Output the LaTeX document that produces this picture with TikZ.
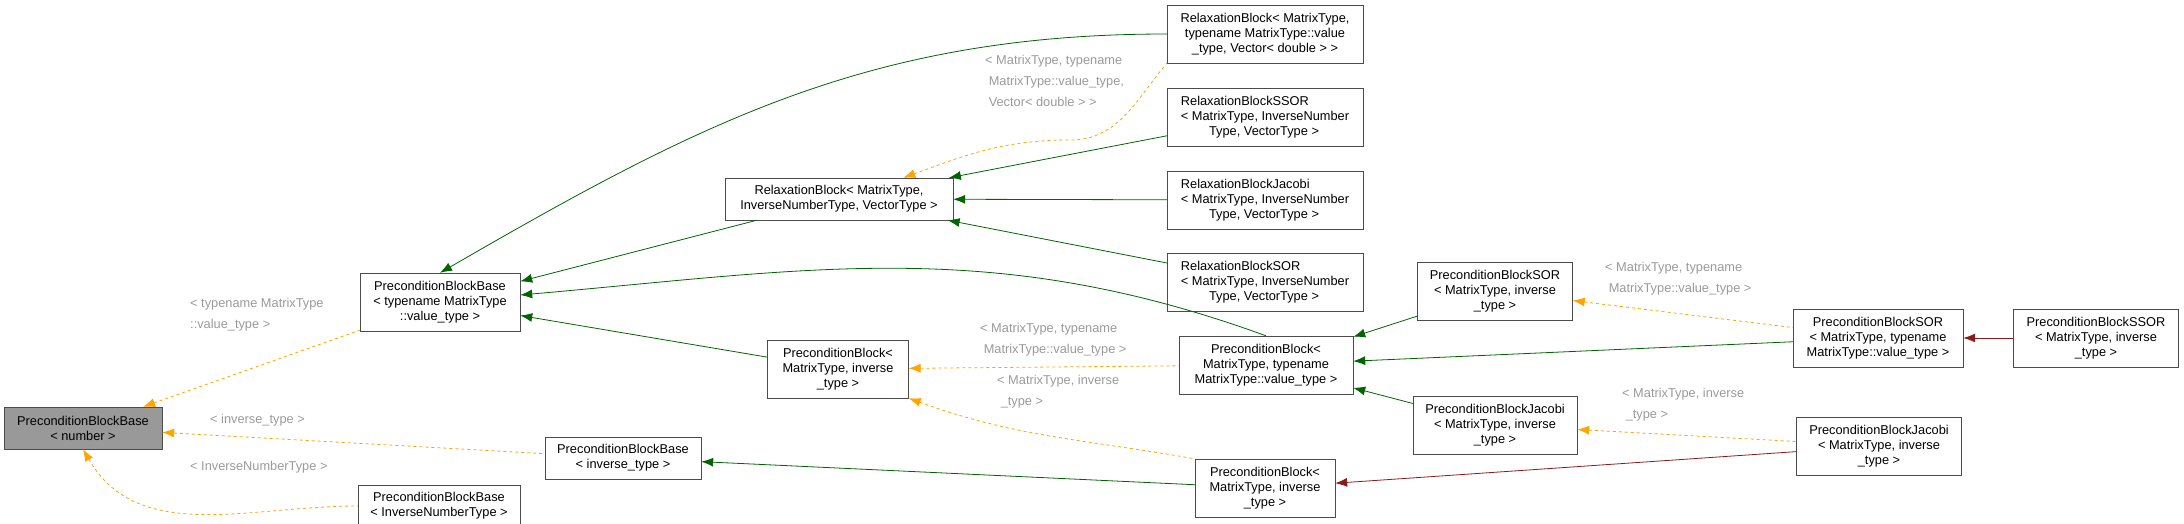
\documentclass[tikz,border=0pt]{standalone}
\usepackage{fontspec}
\setmainfont{Liberation Sans}
\usetikzlibrary{arrows.meta}
\definecolor{dgreen}{HTML}{006400}
\definecolor{dred}{HTML}{8B1A1A}
\definecolor{orng}{HTML}{FFA500}
\definecolor{lblgray}{HTML}{9A9A9A}
\tikzset{
  cls/.style={draw=black!70, font=\fontsize{12.8}{15}\selectfont, align=center, inner sep=0pt},
  clsl/.style={cls, align=left},
  pub/.style={draw=dgreen, thick, {Latex[length=12pt,width=9pt]}-},
  priv/.style={draw=dred, thick, {Latex[length=12pt,width=9pt]}-},
  tmpl/.style={draw=orng, thick, dashed, {Latex[length=12pt,width=9pt]}-},
  lbl/.style={text=lblgray, font=\fontsize{12.8}{21}\selectfont, align=left, anchor=north west, inner sep=0pt}
}
\begin{document}
\begin{tikzpicture}[x=1pt,y=-1pt]
  \useasboundingbox (0,0) rectangle (2184,523);
  % classes
  \node[cls, fill=black!40, minimum width=158pt, minimum height=42pt] (pbbNum) at (83,428) {PreconditionBlockBase\\< number >};
  \node[cls, minimum width=160pt, minimum height=58pt] (pbbVal) at (440,302) {PreconditionBlockBase\\< typename MatrixType\\ ::value\_type >};
  \node[cls, minimum width=156pt, minimum height=42pt] (pbbInv) at (623,458) {PreconditionBlockBase\\< inverse\_type >};
  \node[cls, minimum width=162pt, minimum height=42pt] (pbbNT) at (439,506) {PreconditionBlockBase\\< InverseNumberType >};
  \node[cls, minimum width=228pt, minimum height=42pt] (rb) at (839,199) {RelaxationBlock< MatrixType,\\InverseNumberType, VectorType >};
  \node[cls, minimum width=141pt, minimum height=58pt] (pbInvL) at (838,369) {PreconditionBlock<\\MatrixType, inverse\\\_type >};
  \node[cls, minimum width=196pt, minimum height=58pt] (rbVec) at (1265,34) {RelaxationBlock< MatrixType,\\typename MatrixType::value\\\_type, Vector< double > >};
  \node[clsl, minimum width=196pt, minimum height=58pt] (rbSSOR) at (1265,117) {RelaxationBlockSSOR\\< MatrixType, InverseNumber\\\hspace*{2.2em}Type, VectorType >};
  \node[clsl, minimum width=196pt, minimum height=58pt] (rbJac) at (1265,200) {RelaxationBlockJacobi\\< MatrixType, InverseNumber\\\hspace*{2.2em}Type, VectorType >};
  \node[clsl, minimum width=196pt, minimum height=58pt] (rbSOR) at (1265,282) {RelaxationBlockSOR\\< MatrixType, InverseNumber\\\hspace*{2.2em}Type, VectorType >};
  \node[cls, minimum width=174pt, minimum height=58pt] (pbVal) at (1266,365) {PreconditionBlock<\\MatrixType, typename\\MatrixType::value\_type >};
  \node[cls, minimum width=140pt, minimum height=58pt] (pbInvB) at (1265,488) {PreconditionBlock<\\MatrixType, inverse\\\_type >};
  \node[cls, minimum width=155pt, minimum height=58pt] (pbSORInv) at (1495,291) {PreconditionBlockSOR\\< MatrixType, inverse\\\_type >};
  \node[cls, minimum width=164pt, minimum height=58pt] (pbJacInv) at (1495,425) {PreconditionBlockJacobi\\< MatrixType, inverse\\\_type >};
  \node[cls, minimum width=170pt, minimum height=58pt] (pbSORVal) at (1878,338) {PreconditionBlockSOR\\< MatrixType, typename\\MatrixType::value\_type >};
  \node[cls, minimum width=165pt, minimum height=58pt] (pbSSOR) at (2096,338) {PreconditionBlockSSOR\\< MatrixType, inverse\\\_type >};
  \node[cls, minimum width=165pt, minimum height=58pt] (pbJacR) at (1879,446) {PreconditionBlockJacobi\\< MatrixType, inverse\\\_type >};

  % template instances of PreconditionBlockBase
  \draw[tmpl] (pbbNum) -- (pbbVal);
  \draw[tmpl] (pbbNum) -- (pbbInv);
  \draw[tmpl] (pbbNum.south) to[out=-60,in=180] (pbbNT.west);
  \node[lbl] at (190,298) {< typename MatrixType\\ ::value\_type >};
  \node[lbl] at (210,414) {< inverse\_type >};
  \node[lbl] at (190,461) {< InverseNumberType >};

  % public inheritance
  \draw[pub] (pbbVal) -- (rb);
  \draw[pub] (pbbVal.north) to[out=30,in=180] (rbVec.west);
  \draw[pub] (pbbVal) -- (pbInvL);
  \draw[pub] (pbbVal.east |- 0,295) to[out=5,in=160] (pbVal.north);
  \draw[pub] (rb) -- (rbSSOR);
  \draw[pub] (rb) -- (rbJac);
  \draw[pub] (rb) -- (rbSOR);
  \draw[pub] (pbbInv) -- (pbInvB);
  \draw[pub] (pbVal) -- (pbSORInv);
  \draw[pub] (pbVal) -- (pbSORVal);
  \draw[pub] (pbVal) -- (pbJacInv);

  % template instances
  \draw[tmpl] (rb.north east) ++(-50,0) to[out=20,in=180] (1070,140) to[out=0,in=230] (rbVec.south west);
  \node[lbl] at (985,55) {< MatrixType, typename\\ \ MatrixType::value\_type,\\ \ Vector< double > >};
  \draw[tmpl] (pbInvL) -- (pbVal);
  \node[lbl] at (980,323) {< MatrixType, typename\\ \ MatrixType::value\_type >};
  \draw[tmpl] (pbInvL.south east) to[out=-20,in=170] (pbInvB.north west);
  \node[lbl] at (997,375) {< MatrixType, inverse\\ \ \_type >};
  \draw[tmpl] (pbSORInv) -- (pbSORVal);
  \node[lbl] at (1605,262) {< MatrixType, typename\\ \ MatrixType::value\_type >};
  \draw[tmpl] (pbJacInv) -- (pbJacR);
  \node[lbl] at (1622,388) {< MatrixType, inverse\\ \ \_type >};

  % private inheritance
  \draw[priv] (pbSORVal) -- (pbSSOR);
  \draw[priv] (pbInvB) -- (pbJacR);
\end{tikzpicture}
\end{document}
